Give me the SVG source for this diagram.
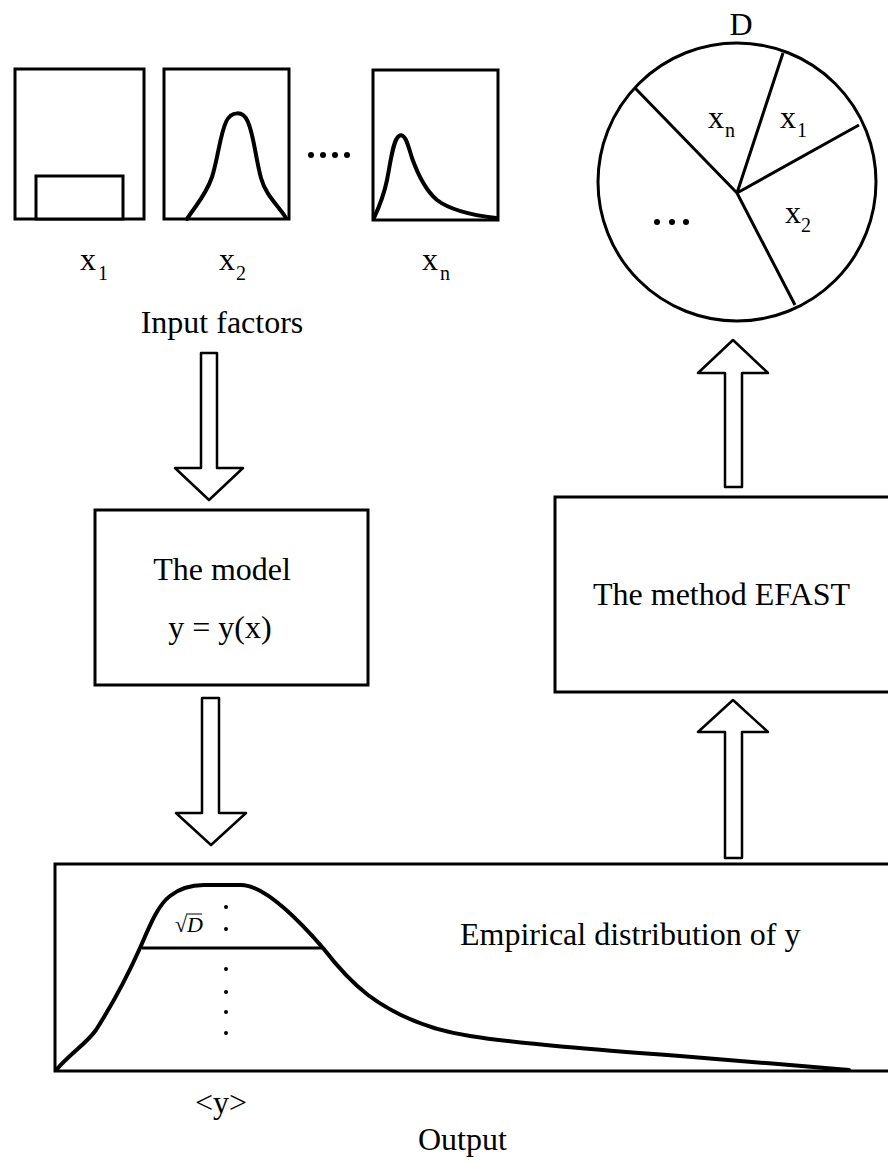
<svg xmlns="http://www.w3.org/2000/svg" width="888" height="1162" viewBox="0 0 888 1162">
<style>
.t{font-family:"Liberation Serif","Times New Roman",serif;font-size:32px;fill:#000}
.s{font-family:"Liberation Serif","Times New Roman",serif;font-size:20px;fill:#000}
.box{fill:#fff;stroke:#000;stroke-width:3}
.crv{fill:none;stroke:#000;stroke-width:4;stroke-linecap:round;stroke-linejoin:round}
.arr{fill:#fff;stroke:#000;stroke-width:2.5;stroke-linejoin:round}
.ln{stroke:#000;stroke-width:3;fill:none}
</style>
<rect width="888" height="1162" fill="#fff"/>

<g id="input-x1">
<rect class="box" x="15" y="69" width="129" height="150"/>
<rect class="box" x="36" y="176" width="87" height="43"/>
<text class="t" x="80" y="270">x</text><text class="s" x="98" y="280">1</text>
</g>
<g id="input-x2">
<rect class="box" x="164" y="69" width="125" height="150"/>
<path class="crv" d="M187,219 C196,205 206,195 212,177 C218,158 220,135 226,122 C231,111 243,110 248,122 C254,136 256,160 261,178 C266,196 278,205 286,218"/>
<text class="t" x="219" y="270">x</text><text class="s" x="236" y="280">2</text>
</g>
<g id="ellipsis-inputs">
<circle cx="311" cy="155" r="3"/><circle cx="323" cy="155" r="3"/><circle cx="335" cy="155" r="3"/><circle cx="347" cy="155" r="3"/>
</g>
<g id="input-xn">
<rect class="box" x="373" y="70" width="125" height="150"/>
<path class="crv" d="M374,218 C380,205 384,195 387,180 C391,160 393,140 399,136 C405,132 408,145 412,158 C417,172 425,190 437,200 C450,210 470,215 496,218"/>
<text class="t" x="422" y="270">x</text><text class="s" x="440" y="280">n</text>
</g>
<g id="input-label">
<text class="t" x="222" y="333" text-anchor="middle">Input factors</text>
</g>

<g id="pie">
<text class="t" x="741" y="35" text-anchor="middle">D</text>
<circle cx="737" cy="182" r="139" fill="#fff" stroke="#000" stroke-width="3"/>
<path class="ln" d="M737,193 L635,88 M737,193 L783,53 M737,193 L859,125 M737,193 L795,305"/>
<text class="t" x="708" y="128">x</text><text class="s" x="725" y="137">n</text>
<text class="t" x="780" y="128">x</text><text class="s" x="797" y="137">1</text>
<text class="t" x="785" y="223">x</text><text class="s" x="801" y="232">2</text>
<circle cx="657" cy="222" r="3"/><circle cx="672" cy="222" r="3"/><circle cx="686" cy="222" r="3"/>
</g>

<g id="model">
<rect class="box" x="95" y="510" width="273" height="175"/>
<text class="t" x="222" y="580" text-anchor="middle">The model</text>
<text class="t" x="220" y="638" text-anchor="middle">y = y(x)</text>
</g>

<g id="efast">
<rect class="box" x="555" y="497" width="340" height="195"/>
<text class="t" x="593" y="605">The method EFAST</text>
</g>

<g id="output">
<rect class="box" x="55" y="864" width="840" height="207"/>
<path class="crv" d="M57,1069 C72,1052 86,1044 96,1030 C115,1000 128,975 140,948 C150,925 158,905 170,896 C180,888 190,885 204,885 L241,885 C260,885 290,910 323,948 C340,970 355,985 368,995 C395,1015 430,1030 470,1036 C520,1044 600,1050 680,1056 C740,1061 790,1065 849,1070"/>
<line class="ln" x1="142" y1="948" x2="323" y2="948"/>
<g fill="#000"><circle cx="226" cy="907" r="2"/><circle cx="226" cy="929" r="2"/><circle cx="226" cy="969" r="2"/><circle cx="226" cy="992" r="2"/><circle cx="226" cy="1012" r="2"/><circle cx="226" cy="1033" r="2"/></g>
<text x="175" y="932" style="font-family:'Liberation Serif',serif;font-size:22px">√<tspan font-style="italic">D</tspan></text>
<line x1="186" y1="914" x2="202" y2="914" stroke="#000" stroke-width="1"/>
<text class="t" x="460" y="945">Empirical distribution of y</text>
<text class="t" x="195" y="1113">&lt;y&gt;</text>
<text class="t" x="418" y="1150">Output</text>
</g>

<g id="connectors">
<polygon class="arr" points="201,353 217,353 217,468 243,468 209,500 175,468 201,468"/>
<polygon class="arr" points="202,698 219,698 219,813 246,813 211,845 176,813 202,813"/>
<polygon class="arr" points="725,487 742,487 742,373 768,373 733,340 698,373 725,373"/>
<polygon class="arr" points="725,858 742,858 742,732 768,732 733,700 698,732 725,732"/>
</g>
</svg>
